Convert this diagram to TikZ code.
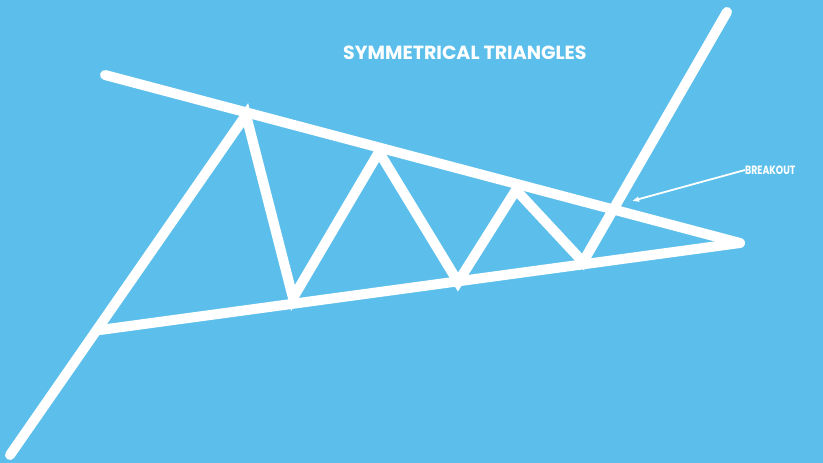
\documentclass[tikz,border=0pt]{standalone}
\usepackage{fontspec}
\setmainfont{Poppins}
\usetikzlibrary{arrows.meta}
\definecolor{bgblue}{RGB}{92,191,235}
\tikzset{
  thick line/.style={white, line width=10pt, line cap=round, line join=miter},
  label text/.style={white, font=\bfseries, inner sep=0pt},
}
\begin{document}
\begin{tikzpicture}[x=1pt,y=-1pt]
\fill[bgblue] (0,0) rectangle (823,463);
\useasboundingbox (0,0) rectangle (823,463);
% trend lines
\coordinate (ut1) at (105,75);
\coordinate (apex) at (740,243);
\coordinate (lt1) at (100,330);
\draw[thick line] (ut1) -- (apex);
\draw[thick line] (lt1) -- (apex);
% price zigzag
\coordinate (p0) at (10,455);
\coordinate (p1) at (246,115);
\coordinate (p2) at (293,298);
\coordinate (p3) at (379,152);
\coordinate (p4) at (458,282);
\coordinate (p5) at (516,190);
\coordinate (p6) at (583,262);
\coordinate (p7) at (727,12);
\draw[thick line] (p0) -- (p1) -- (p2) -- (p3) -- (p4) -- (p5) -- (p6) -- (p7);
% labels
\node[label text, font=\bfseries\fontsize{19}{22}\selectfont, anchor=west] (title) at (343,53) {SYMMETRICAL TRIANGLES};
\node[label text, font=\bfseries\fontsize{12}{14}\selectfont, anchor=west] (brk) at (745,170) {\scalebox{0.78}[1]{BREAKOUT}};
\coordinate (brktip) at (632,201);
\draw[white, line width=1.8pt, -{Latex[length=7pt,width=6pt]}] (brk.west) -- (brktip);
\end{tikzpicture}
\end{document}
